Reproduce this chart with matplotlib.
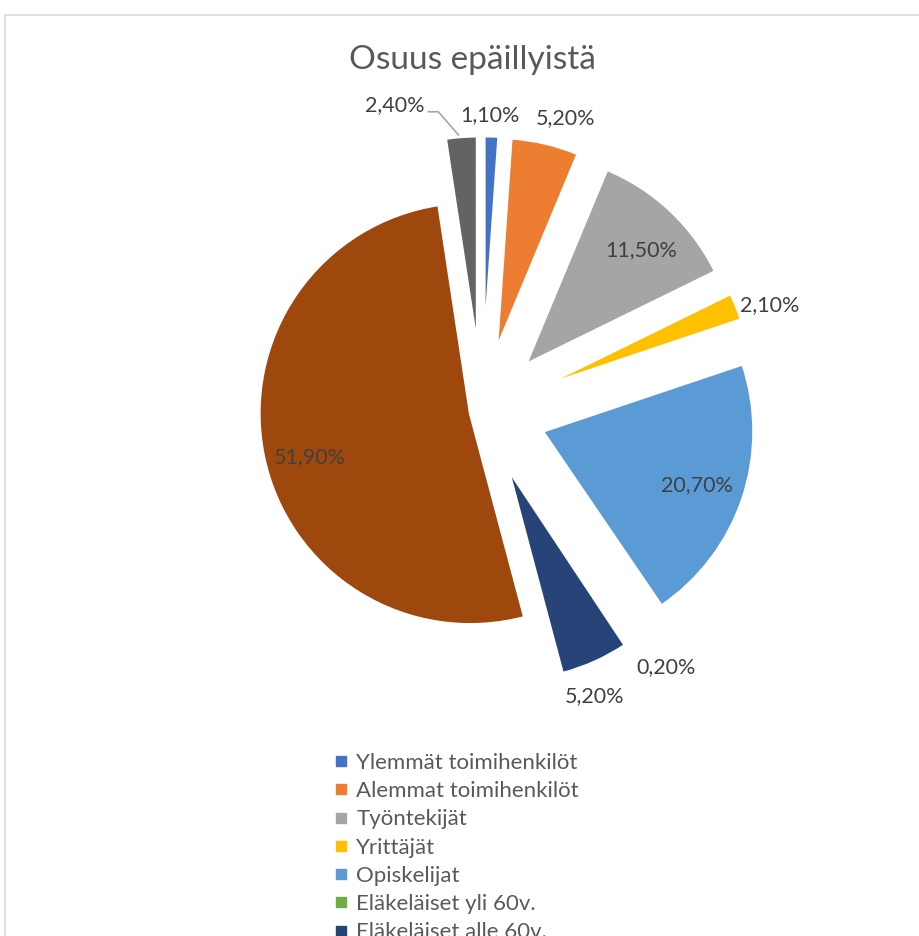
import numpy as np
import matplotlib.pyplot as plt
from matplotlib.lines import Line2D
from matplotlib.patches import Rectangle

# Data
categories = ["Ylemmät toimihenkilöt", "Alemmat toimihenkilöt", "Työntekijät",
              "Yrittäjät", "Opiskelijat", "Eläkeläiset yli 60v.",
              "Eläkeläiset alle 60v.", "", ""]
shares = [1.10, 5.20, 11.50, 2.10, 20.70, 0.20, 5.20, 51.90, 2.40]
pct_labels = ["1,10%", "5,20%", "11,50%", "2,10%", "20,70%", "0,20%",
              "5,20%", "51,90%", "2,40%"]
colors = ["#4472C4", "#ED7D31", "#A5A5A5", "#FFC000", "#5B9BD5",
          "#70AD47", "#264478", "#9E480E", "#636363"]
n_legend = 7  # entries visible in the picture

W, H = 920, 936
plt.rcParams['font.family'] = ['Lato', 'DejaVu Sans']

fig = plt.figure(figsize=(W / 100, H / 100), dpi=100)
ax = fig.add_axes([0, 0, 1, 1])

# chart frame (cut by the image edge on right/bottom)
ax.add_patch(Rectangle((5.5, -20), W + 40, H - 14.5 + 20, fill=False,
                       edgecolor="#D9D9D9", linewidth=1.2))

R = 211
explode = [64, 64, 64, 64, 64, 64, 64, 12, 64]
wedges, _ = ax.pie(shares, colors=colors, startangle=90, counterclock=False,
                   radius=R, center=(482, H - 411), explode=explode,
                   wedgeprops=dict(edgecolor="white", linewidth=2))

# label distance as a fraction of the radius, plus small nudges (px)
label_k = [1.10, 1.14, 0.77, 1.15, 0.77, 1.19, 1.15, 0.79, None]
nudge = [(-2, 0), (14, -3), (4, -4), (4, -11), (0, -2), (8, 5), (-13, -5),
         (3, -10), (0, 0)]
for w, txt, k, (dx, dy) in zip(wedges, pct_labels, label_k, nudge):
    mid = np.deg2rad((w.theta1 + w.theta2) / 2)
    cx, cy = w.center
    if k is None:
        # leader-line label for the last slice
        ex = cx + R * np.cos(mid)
        ey = cy + R * np.sin(mid)
        px = [ex - 3, ex - 23, ex - 33]
        py = [ey + 2, ey + 25, ey + 25]
        ax.plot(px, py, color="#A6A6A6", linewidth=1.2)
        ax.text(px[-1] - 4, py[-1] + 7, txt, ha="right", va="center",
                fontsize=15.5, color="#404040")
        continue
    ax.text(cx + k * R * np.cos(mid) + dx, cy + k * R * np.sin(mid) + dy, txt,
            ha="center", va="center", fontsize=15.5, color="#404040")

ax.text(472, H - 60, "Osuus epäillyistä", ha="center", va="center",
        fontsize=24, color="#595959")

handles = [Line2D([], [], marker="s", linestyle="none", markersize=6.5,
                  markerfacecolor=c, markeredgecolor=c)
           for c in colors[:n_legend]]
ax.legend(handles, categories[:n_legend], loc="upper left",
          bbox_to_anchor=(334 / W, 1 - 753 / H), frameon=False,
          fontsize=16, labelcolor="#595959", handlelength=0.6,
          handletextpad=0.4, labelspacing=0.37, borderpad=0,
          borderaxespad=0)

ax.set_xlim(0, W)
ax.set_ylim(0, H)
ax.set_aspect("equal")
ax.axis("off")

fig.savefig("out.png", dpi=100)
